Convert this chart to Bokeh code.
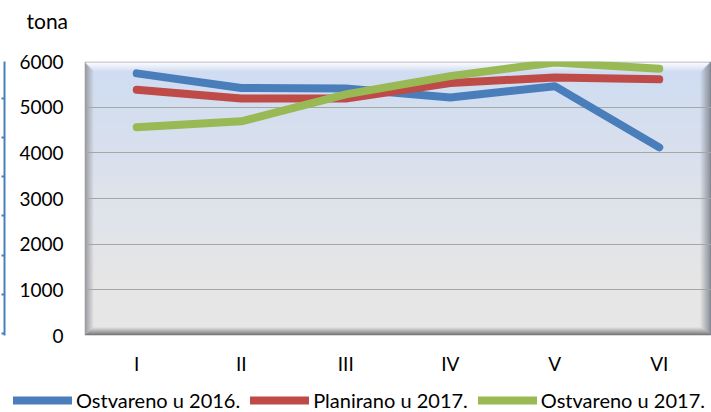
import numpy as np
from bokeh.plotting import figure
from bokeh.models import (Range1d, FactorRange, FixedTicker, Legend, LegendItem,
                          LinearAxis, Label)
from bokeh.embed import file_html
from bokeh.resources import INLINE

# ---- data ----
months = ["I", "II", "III", "IV", "V", "VI"]
ostvareno_2016 = [5740, 5420, 5410, 5210, 5460, 4120]
planirano_2017 = [5380, 5190, 5190, 5530, 5650, 5610]
ostvareno_2017 = [4560, 4690, 5280, 5680, 5980, 5840]
series_names = ["Ostvareno u 2016.", "Planirano u 2017.", "Ostvareno u 2017."]
y_ticks = [0, 1000, 2000, 3000, 4000, 5000, 6000]
unit_label = "tona"

colors = ["#4A7EBB", "#BE4B48", "#98B954"]
FONT = "Lato"
FS_AX = "19px"
FS_LEG = "20px"

W_TOT, H_MAIN, H_LEG = 711, 388, 24
BL, BT, BB, BR = 84, 61, 53, 0

p = figure(width=W_TOT, height=H_MAIN, output_backend="svg", toolbar_location=None,
           x_range=FactorRange(factors=months, range_padding=0),
           y_range=Range1d(0, 6000),
           min_border_left=BL, min_border_top=BT, min_border_bottom=BB,
           min_border_right=BR, outline_line_color=None,
           background_fill_color="white", border_fill_color="white",
           styles={"position": "absolute", "left": "0px", "top": "0px"})

# ---- plot-area background (gradient + bevel) ----
FW, FH = W_TOT - BL - BR, H_MAIN - BT - BB
yy, xx = np.mgrid[0:FH, 0:FW].astype(float)
t = yy / (FH - 1)
stops = [0.0, 0.45, 0.8, 1.0]
cols = np.array([(206, 220, 242), (221, 226, 236), (230, 230, 230), (231, 231, 231)], float)
base = np.stack([np.interp(t, stops, cols[:, c]) for c in range(3)], axis=-1)
n = np.stack([yy / 10.0, xx / 9.0, (FW - 1 - xx) / 11.0, (FH - 1 - yy) / 8.0])
edge = n.argmin(axis=0)
s = np.clip(1 - n.min(axis=0), 0, 1)[..., None]
E = np.array([(255, 255, 255), (155, 155, 160), (135, 140, 150), (120, 120, 120)], float)
col = base * (1 - s) + E[edge] * s
col[0, :, :] = (160, 165, 175)
col[:, 0, :] = (150, 150, 155)
col[-1, :, :] = (110, 110, 110)
col[:, -1, :] = (120, 125, 135)
img = np.empty((FH, FW), dtype=np.uint32)
view = img.view(dtype=np.uint8).reshape((FH, FW, 4))
view[..., :3] = np.flipud(col).astype(np.uint8)
view[..., 3] = 255
p.image_rgba(image=[img], x=0, y=0, dw=len(months), dh=6000, level="image")

# ---- axes / grid ----
p.yaxis.ticker = FixedTicker(ticks=y_ticks)
p.yaxis.major_tick_out = 0
p.yaxis.major_tick_in = 0
p.yaxis.minor_tick_out = 0
p.yaxis.minor_tick_in = 0
p.yaxis.axis_line_color = None
p.yaxis.major_label_standoff = 21
p.yaxis.axis_label = " "
p.yaxis.axis_label_text_font_size = "8px"
p.yaxis.axis_label_standoff = 0
p.xaxis.major_tick_out = 0
p.xaxis.major_tick_in = 0
p.xaxis.axis_line_color = None
p.xaxis.major_label_standoff = 16
for ax in (p.xaxis, p.yaxis):
    ax.major_label_text_font = FONT
    ax.major_label_text_font_size = FS_AX
    ax.major_label_text_color = "#000000"
p.xgrid.grid_line_color = None
p.ygrid.grid_line_color = "#A6A6A6"
p.ygrid.grid_line_width = 1

# ---- decorative blue border at the far left (an unlabeled extra axis) ----
deco_ticks = [0, 1, 2, 3, 4, 5, 6]
p.extra_y_ranges = {"deco": Range1d(-0.05, -0.05 + FH / 39.2)}
deco = LinearAxis(y_range_name="deco", ticker=FixedTicker(ticks=deco_ticks),
                  axis_line_color="#4A7EBB", axis_line_width=2,
                  major_tick_line_color="#4A7EBB", major_tick_line_width=2,
                  major_tick_out=3, major_tick_in=0, minor_tick_out=0, minor_tick_in=0,
                  major_label_overrides={k: "" for k in deco_ticks},
                  major_label_standoff=0)
p.add_layout(deco, "left")

# ---- lines ----
for vals, c in zip([ostvareno_2016, planirano_2017, ostvareno_2017], colors):
    p.line(x=months, y=vals, line_width=8, line_color=c,
           line_cap="round", line_join="round")

# ---- unit label strip ("tona") ----
pt = figure(width=110, height=40, output_backend="svg", toolbar_location=None,
            x_axis_type=None, y_axis_type=None,
            min_border_left=0, min_border_right=0, min_border_top=0, min_border_bottom=0,
            outline_line_color=None, background_fill_color="white",
            border_fill_color="white", x_range=Range1d(0, 1), y_range=Range1d(0, 1),
            styles={"position": "absolute", "left": "0px", "top": "0px"})
pt.xgrid.visible = False
pt.ygrid.visible = False
pt.add_layout(Label(x=26, y=20, x_units="screen", y_units="screen", text=unit_label,
                    text_font=FONT, text_font_size="21px", text_baseline="middle",
                    text_color="#000000"))

# ---- legend strip ----
pl = figure(width=W_TOT, height=H_LEG, output_backend="svg", toolbar_location=None,
            x_axis_type=None, y_axis_type=None,
            min_border_left=0, min_border_right=0, min_border_top=0, min_border_bottom=0,
            outline_line_color=None, background_fill_color="white",
            border_fill_color="white", x_range=Range1d(0, 1), y_range=Range1d(0, 1),
            styles={"position": "absolute", "left": "0px", "top": f"{H_MAIN}px"})
pl.xgrid.visible = False
pl.ygrid.visible = False
leg_r = [pl.line(x=np.array([np.nan]), y=np.array([np.nan]), line_width=8,
                 line_color=c, line_cap="round")
         for c in colors]
legend = Legend(items=[LegendItem(label=nm, renderers=[r]) for nm, r in zip(series_names, leg_r)],
                orientation="horizontal", location=(13, 0),
                glyph_width=59, glyph_height=20, label_standoff=4, spacing=10,
                padding=0, margin=0, label_text_font=FONT, label_text_font_size=FS_LEG,
                label_text_color="#000000",
                background_fill_alpha=0, border_line_alpha=0)
pl.add_layout(legend, "center")

open("out.html", "w").write(file_html([p, pt, pl], INLINE))
